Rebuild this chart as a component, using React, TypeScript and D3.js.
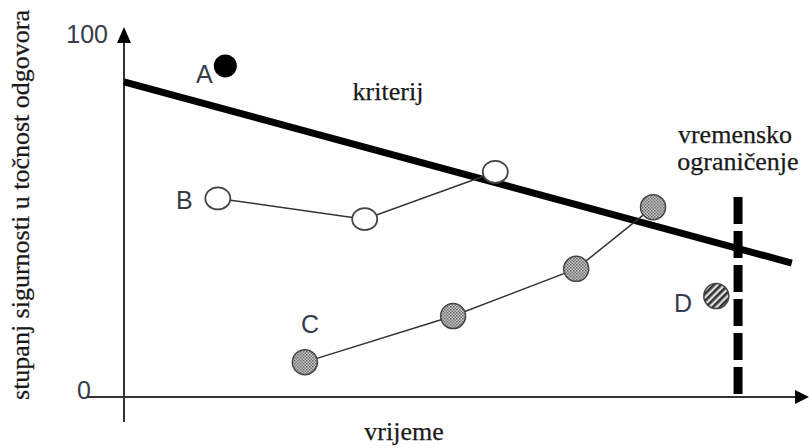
import React from "react";
import * as d3 from "d3";

const W = 809;
const H = 448;

// data (x: time units 0-100, y: confidence 0-100)
const pointA = { x: 14.9, y: 91.2 };
const criterionX = [0, 98.2];
const criterionY = [86.8, 36.9];
const seriesBX = [13.8, 35.4, 54.6];
const seriesBY = [54.7, 49.0, 62.0];
const seriesCX = [26.6, 48.4, 66.5, 77.8];
const seriesCY = [9.6, 22.3, 35.3, 52.3];
const pointD = { x: 87.1, y: 27.8 };
const deadlineX = 90.3;
const yTicks = [0, 100];

const x = d3.scaleLinear().domain([0, 100]).range([124, 804]);
const y = d3.scaleLinear().domain([0, 100]).range([397, 34]);

const line = d3
  .line<[number, number]>()
  .x((d) => x(d[0]))
  .y((d) => y(d[1]));

const zip = (a: number[], b: number[]): [number, number][] =>
  a.map((v, i) => [v, b[i]]);

const serif = "'Liberation Serif', 'Times New Roman', serif";
const sans = "'Liberation Sans', Arial, sans-serif";
const labelColor = "#363c4c";

export default function App() {
  const x0 = x(0);
  const y0 = y(0);
  const serifStyle = {
    fontFamily: serif,
    fontSize: 26,
    fill: "#1a1a1a",
    stroke: "#1a1a1a",
    strokeWidth: 0.25,
  } as const;
  const letterStyle = { fontFamily: sans, fontSize: 25, fill: labelColor } as const;
  return (
    <svg
      width={W}
      height={H}
      viewBox={`0 0 ${W} ${H}`}
      style={{ position: "absolute", left: 0, top: 0, background: "#fff" }}
    >
      <defs>
        <pattern id="dots" width="3" height="3" patternUnits="userSpaceOnUse">
          <rect width="3" height="3" fill="#c8c8c8" />
          <rect width="1.5" height="1.5" fill="#666" />
          <rect x="1.5" y="1.5" width="1.5" height="1.5" fill="#777" />
        </pattern>
        <pattern
          id="stripes"
          width="5"
          height="5"
          patternUnits="userSpaceOnUse"
          patternTransform="rotate(-45)"
        >
          <rect width="5" height="5" fill="#ddd" />
          <rect width="5" height="2.6" fill="#333" />
        </pattern>
      </defs>

      {/* axes */}
      <line x1={87} y1={y0} x2={800} y2={y0} stroke="#333" strokeWidth={2} />
      <path d={`M809,${y0} L795,${y0 - 7} L795,${y0 + 7} Z`} fill="#000" />
      <line x1={x0} y1={422} x2={x0} y2={40} stroke="#333" strokeWidth={2} />
      <path d={`M${x0},27 L${x0 - 7},43 L${x0 + 7},43 Z`} fill="#000" />

      {yTicks.map((t) => (
        <text
          key={t}
          x={t === 0 ? 91 : 108}
          y={t === 0 ? 399 : 43}
          textAnchor="end"
          style={{ fontFamily: sans, fontSize: 25, fill: labelColor }}
        >
          {t}
        </text>
      ))}

      {/* deadline */}
      <line
        x1={x(deadlineX)}
        y1={197}
        x2={x(deadlineX)}
        y2={y0 + 1}
        stroke="#000"
        strokeWidth={9}
        strokeDasharray="27 7"
      />

      {/* criterion */}
      <path
        d={line(zip(criterionX, criterionY)) || ""}
        stroke="#000"
        strokeWidth={7}
        fill="none"
      />

      {/* series B */}
      <path
        d={line(zip(seriesBX, seriesBY)) || ""}
        stroke="#333"
        strokeWidth={1.5}
        fill="none"
      />
      {zip(seriesBX, seriesBY).map((d, i) => (
        <ellipse
          key={"b" + i}
          cx={x(d[0])}
          cy={y(d[1])}
          rx={12.5}
          ry={11}
          fill="#fff"
          stroke="#444"
          strokeWidth={1.8}
        />
      ))}

      {/* series C */}
      <path
        d={line(zip(seriesCX, seriesCY)) || ""}
        stroke="#333"
        strokeWidth={1.5}
        fill="none"
      />
      {zip(seriesCX, seriesCY).map((d, i) => (
        <circle
          key={"c" + i}
          cx={x(d[0])}
          cy={y(d[1])}
          r={12.5}
          fill="url(#dots)"
          stroke="#444"
          strokeWidth={1.5}
        />
      ))}

      {/* point A */}
      <circle cx={x(pointA.x)} cy={y(pointA.y)} r={11.5} fill="#000" />

      {/* point D */}
      <circle
        cx={x(pointD.x)}
        cy={y(pointD.y)}
        r={12.5}
        fill="url(#stripes)"
        stroke="#444"
        strokeWidth={1.5}
      />

      {/* letter labels */}
      <text x={196} y={83} style={letterStyle}>A</text>
      <text x={176} y={209} style={letterStyle}>B</text>
      <text x={301} y={333} style={letterStyle}>C</text>
      <text x={674} y={312} style={letterStyle}>D</text>

      <text x={388} y={100} textAnchor="middle" style={serifStyle}>kriterij</text>
      <text x={735} y={143} textAnchor="middle" style={serifStyle}>vremensko</text>
      <text x={738} y={170} textAnchor="middle" style={serifStyle}>ograničenje</text>
      <text x={404} y={440} textAnchor="middle" style={serifStyle}>vrijeme</text>
      <text
        transform="translate(29,205) rotate(-90)"
        textAnchor="middle"
        style={serifStyle}
      >
        stupanj sigurnosti u točnost odgovora
      </text>
    </svg>
  );
}
